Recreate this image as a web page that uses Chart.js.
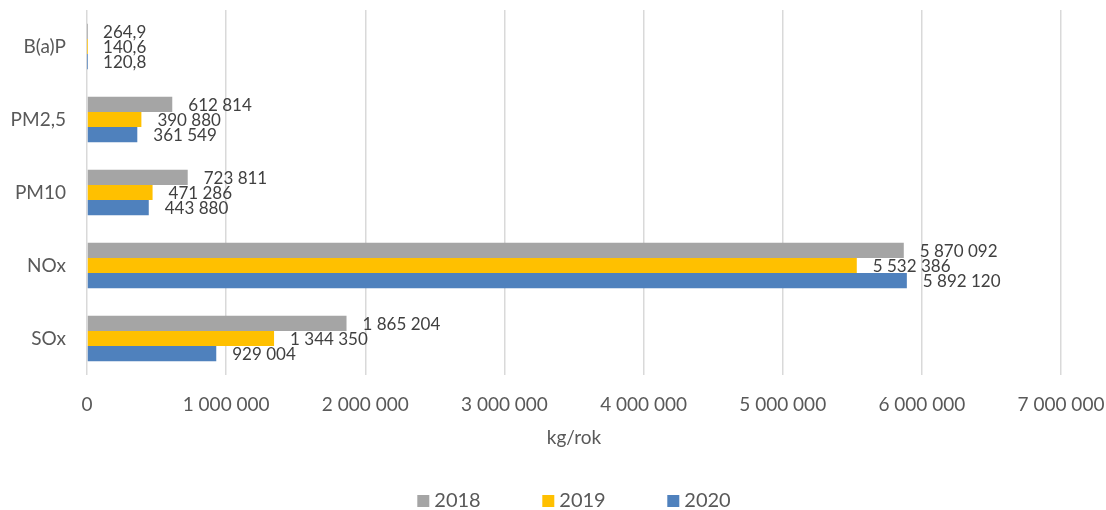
<!DOCTYPE html>
<html>
<head>
<meta charset="utf-8">
<script src="https://cdn.jsdelivr.net/npm/chart.js@4.4.1/dist/chart.umd.min.js"></script>
<style>
  html, body { margin: 0; padding: 0; background: #fff; }
  #wrap { width: 1106px; height: 510px; }
</style>
</head>
<body>
<div id="wrap"><canvas id="emisje" width="1106" height="510"></canvas></div>
<script>
const categories = ['B(a)P', 'PM2,5', 'PM10', 'NOx', 'SOx'];
const years = ['2018', '2019', '2020'];
const values2018 = [264.9, 612814, 723811, 5870092, 1865204];
const values2019 = [140.6, 390880, 471286, 5532386, 1344350];
const values2020 = [120.8, 361549, 443880, 5892120, 929004];
const colors = ['#A5A5A5', '#FFC000', '#4F81BD'];

const FONT = 'Lato, "Open Sans", sans-serif';
const TEXT = '#595959';

// 1 234 567 / 264,9
function fmt(v) {
    const s = String(v).split('.');
    const intPart = s[0].replace(/\B(?=(\d{3})+(?!\d))/g, ' ');
    return s.length > 1 ? intPart + ',' + s[1] : intPart;
}

// value labels at bar ends
const barLabels = {
    id: 'barLabels',
    afterDatasetsDraw(chart) {
        const ctx = chart.ctx;
        ctx.save();
        ctx.font = '17px ' + FONT;
        ctx.fillStyle = '#404040';
        ctx.textAlign = 'left';
        ctx.textBaseline = 'middle';
        chart.data.datasets.forEach((ds, i) => {
            const meta = chart.getDatasetMeta(i);
            meta.data.forEach((bar, j) => {
                ctx.fillText(fmt(ds.data[j]), bar.x + 16, bar.y + 1);
            });
        });
        ctx.restore();
    }
};

// legend with wide spacing between items, like the original
const wideLegend = {
    id: 'wideLegend',
    afterDraw(chart) {
        const ctx = chart.ctx;
        const box = 12, gap = 5, step = 125;
        const y = 501;
        ctx.save();
        ctx.font = '20px ' + FONT;
        ctx.textBaseline = 'middle';
        ctx.textAlign = 'left';
        const n = chart.data.datasets.length;
        const lastW = box + gap + ctx.measureText(chart.data.datasets[n - 1].label).width;
        const total = step * (n - 1) + lastW;
        const area = chart.chartArea;
        let x = (area.left + area.right) / 2 - total / 2;
        chart.data.datasets.forEach((ds) => {
            ctx.fillStyle = ds.backgroundColor;
            ctx.fillRect(x, y - box / 2, box, box);
            ctx.fillStyle = TEXT;
            ctx.fillText(ds.label, x + box + gap, y);
            x += step;
        });
        ctx.restore();
    }
};

new Chart(document.getElementById('emisje'), {
    type: 'bar',
    data: {
        labels: categories,
        datasets: [
            { label: years[0], data: values2018, backgroundColor: colors[0] },
            { label: years[1], data: values2019, backgroundColor: colors[1] },
            { label: years[2], data: values2020, backgroundColor: colors[2] }
        ]
    },
    options: {
        indexAxis: 'y',
        responsive: false,
        animation: false,
        barPercentage: 1,
        categoryPercentage: 0.62,
        layout: { padding: { top: 10, right: 45, left: 11, bottom: 61 } },
        scales: {
            x: {
                min: 0,
                max: 7000000,
                afterFit: (s) => { s.paddingLeft = 0; s.paddingRight = 0; s.height = 74; },
                ticks: {
                    stepSize: 1000000,
                    padding: 18,
                    maxRotation: 0,
                    minRotation: 0,
                    color: TEXT,
                    font: { family: FONT, size: 19 },
                    callback: (v) => fmt(v)
                },
                grid: { color: '#D9D9D9', lineWidth: 1.5, drawTicks: false },
                border: { display: false },
                title: {
                    display: true,
                    text: 'kg/rok',
                    color: TEXT,
                    font: { family: FONT, size: 19 },
                    padding: { top: 10, bottom: 0 }
                }
            },
            y: {
                afterFit: (s) => { s.width = 76; s.paddingTop = 0; s.paddingBottom = 0; },
                ticks: {
                    padding: 21,
                    color: TEXT,
                    font: { family: FONT, size: 19 }
                },
                grid: { display: false, drawTicks: false },
                border: { display: false }
            }
        },
        plugins: {
            legend: { display: false },
            tooltip: { enabled: false }
        }
    },
    plugins: [barLabels, wideLegend]
});
</script>
</body>
</html>
